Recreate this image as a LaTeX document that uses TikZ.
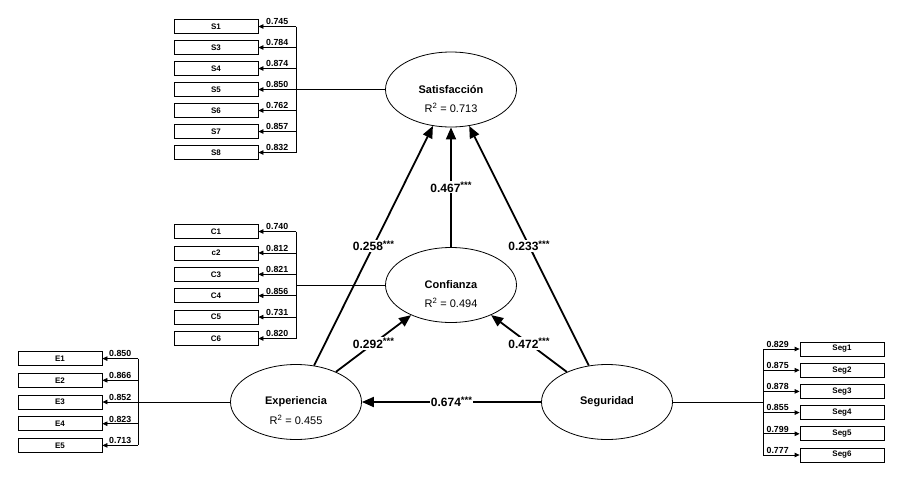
\documentclass[tikz,border=0pt]{standalone}
\usepackage{fontspec}
\setmainfont{Liberation Sans}
\usetikzlibrary{arrows.meta,shapes.geometric}

\newcommand{\stars}{\raisebox{3.5pt}{\fontsize{9.5}{10}\selectfont ***}}

\begin{document}
\begin{tikzpicture}[x=1pt,y=-1pt,
  latent/.style={draw,ellipse,line width=0.8pt,minimum width=131pt,minimum height=75pt,inner sep=0pt,font=\bfseries\fontsize{11}{13}\selectfont},
  rsq/.style={inner sep=0pt,font=\fontsize{11}{13}\selectfont},
  item/.style={draw,line width=0.8pt,minimum width=84pt,minimum height=14pt,inner sep=0pt,font=\bfseries\fontsize{8}{9}\selectfont},
  load/.style={above,inner sep=1.2pt,font=\bfseries\fontsize{8.8}{9}\selectfont},
  outer/.style={line width=0.8pt,-{Triangle[length=5pt,width=4.5pt]}},
  effect/.style={line width=1.8pt,-{Triangle[length=12pt,width=10pt]}},
  coef/.style={fill=white,inner sep=1pt,font=\bfseries\fontsize{12}{14}\selectfont}]
\useasboundingbox (0,0) rectangle (906,477);

\node[latent] (sat) at (451,89.5) {Satisfacción};
\node[rsq] at ([yshift=-18pt]sat.center) {R\textsuperscript{2} = 0.713};
\node[latent] (con) at (451,285) {Confianza};
\node[rsq] at ([yshift=-18pt]con.center) {R\textsuperscript{2} = 0.494};
\node[latent] (exp) at (296,402) {Experiencia};
\node[rsq] at ([yshift=-18pt]exp.center) {R\textsuperscript{2} = 0.455};
\node[latent] (seg) at (607,402) {Seguridad};

\foreach \t/\v [count=\i] in {S1/0.745,S3/0.784,S4/0.874,S5/0.850,S6/0.762,S7/0.857,S8/0.832}{
  \node[item] (s\i) at (216,{26.5+21*(\i-1)}) {\t};
  \coordinate (sb\i) at (296,{26.5+21*(\i-1)});
  \draw[outer] (sb\i) -- node[load]{\v} (s\i);
}
\draw[line width=0.8pt] (sb1) -- (sb7);
\draw[line width=0.8pt] (sat) -- (sb4);

\foreach \t/\v [count=\i] in {C1/0.740,c2/0.812,C3/0.821,C4/0.856,C5/0.731,C6/0.820}{
  \node[item] (c\i) at (216,{231.5+21.4*(\i-1)}) {\t};
  \coordinate (cb\i) at (296,{231.5+21.4*(\i-1)});
  \draw[outer] (cb\i) -- node[load]{\v} (c\i);
}
\draw[line width=0.8pt] (cb1) -- (cb6);
\draw[line width=0.8pt] (con) -- (con -| cb1);

\foreach \t/\v [count=\i] in {E1/0.850,E2/0.866,E3/0.852,E4/0.823,E5/0.713}{
  \node[item] (e\i) at (60,{358.6+21.7*(\i-1)}) {\t};
  \coordinate (eb\i) at (138,{358.6+21.7*(\i-1)});
  \draw[outer] (eb\i) -- node[load]{\v} (e\i);
}
\draw[line width=0.8pt] (eb1) -- (eb5);
\draw[line width=0.8pt] (exp) -- (eb3);

\foreach \t/\v [count=\i] in {Seg1/0.829,Seg2/0.875,Seg3/0.878,Seg4/0.855,Seg5/0.799,Seg6/0.777}{
  \node[item] (g\i) at (842,{349+21.2*(\i-1)}) {\t};
  \coordinate (gb\i) at (763,{349+21.2*(\i-1)});
  \draw[outer] (gb\i) -- node[load,pos=0.4]{\v} (g\i);
}
\draw[line width=0.8pt] (gb1) -- (gb6);
\draw[line width=0.8pt] (seg) -- (seg -| gb1);

\draw[effect] (exp) -- node[coef]{0.258\stars} (sat);
\draw[effect] (con) -- node[coef]{0.467\stars} (sat);
\draw[effect] (seg) -- node[coef]{0.233\stars} (sat);
\draw[effect] (exp) -- node[coef]{0.292\stars} (con);
\draw[effect] (seg) -- node[coef]{0.472\stars} (con);
\draw[effect] (seg) -- node[coef]{0.674\stars} (exp);
\end{tikzpicture}
\end{document}
